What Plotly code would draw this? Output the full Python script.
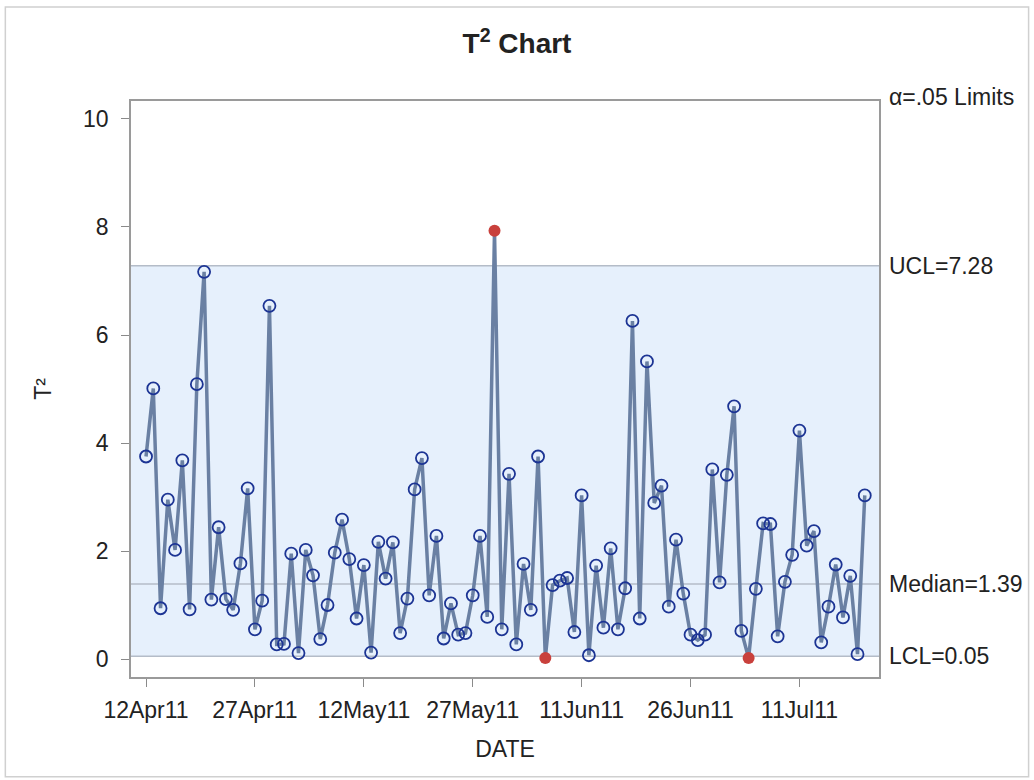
import pandas as pd
import plotly.graph_objects as go

start_date = "2011-04-12"
t2_values = [
    3.75, 5.01, 0.94, 2.95, 2.02, 3.68, 0.92, 5.09, 7.17, 1.10,
    2.44, 1.11, 0.91, 1.77, 3.16, 0.55, 1.08, 6.54, 0.27, 0.28,
    1.95, 0.11, 2.02, 1.55, 0.37, 1.00, 1.97, 2.58, 1.85, 0.75,
    1.74, 0.12, 2.17, 1.49, 2.16, 0.48, 1.12, 3.14, 3.72, 1.18,
    2.28, 0.38, 1.03, 0.45, 0.48, 1.18, 2.28, 0.78, 7.93, 0.55,
    3.43, 0.27, 1.76, 0.91, 3.75, 0.02, 1.37, 1.45, 1.50, 0.50,
    3.03, 0.07, 1.73, 0.58, 2.05, 0.55, 1.31, 6.26, 0.75, 5.51,
    2.89, 3.21, 0.97, 2.21, 1.21, 0.45, 0.35, 0.45, 3.51, 1.42,
    3.41, 4.68, 0.52, 0.02, 1.30, 2.51, 2.50, 0.42, 1.43, 1.93,
    4.23, 2.10, 2.37, 0.31, 0.97, 1.75, 0.77, 1.54, 0.09, 3.03,
]
ucl = 7.28
median = 1.39
lcl = 0.05
tick_labels = ["12Apr11", "27Apr11", "12May11", "27May11", "11Jun11", "26Jun11", "11Jul11"]
tick_dates = ["2011-04-12", "2011-04-27", "2011-05-12", "2011-05-27", "2011-06-11", "2011-06-26", "2011-07-11"]

dates = pd.date_range(start_date, periods=len(t2_values), freq="D")
out_x = [d for d, v in zip(dates, t2_values) if v > ucl or v < lcl]
out_y = [v for v in t2_values if v > ucl or v < lcl]
in_x = [d for d, v in zip(dates, t2_values) if lcl <= v <= ucl]
in_y = [v for v in t2_values if lcl <= v <= ucl]

FONT = "Arial, Liberation Sans, sans-serif"
TXT = "#222222"
x0 = pd.Timestamp(start_date) - pd.Timedelta(days=2.07)
x1 = pd.Timestamp(start_date) + pd.Timedelta(days=100.96)

fig = go.Figure()
fig.add_trace(go.Scatter(x=dates, y=t2_values, mode="lines",
                         line=dict(color="#6a80a3", width=3.5), hoverinfo="skip"))
fig.add_trace(go.Scatter(x=in_x, y=in_y, mode="markers",
                         marker=dict(symbol="circle-open", size=12, color="#1c3494",
                                     line=dict(width=1.8, color="#1c3494"))))
fig.add_trace(go.Scatter(x=out_x, y=out_y, mode="markers",
                         marker=dict(symbol="circle", size=12, color="#c9403c")))

# control band
fig.add_shape(type="rect", xref="paper", yref="y", x0=0, x1=1, y0=lcl, y1=ucl,
              fillcolor="#e6f0fc", line=dict(width=0), layer="below")
for v in (ucl, median, lcl):
    fig.add_shape(type="line", xref="paper", yref="y", x0=0, x1=1, y0=v, y1=v,
                  line=dict(color="#b4bcc8", width=1.5), layer="below")

# outer frame
fig.add_shape(type="rect", xref="paper", yref="paper", x0=-0.168, x1=1.2, y0=-0.173, y1=1.163,
              line=dict(color="#d0d0d0", width=1.5), fillcolor="rgba(0,0,0,0)")

ann_font = dict(family=FONT, size=23, color=TXT)
fig.add_annotation(xref="paper", yref="paper", x=1.0107, y=1.007, text="α=.05 Limits",
                   showarrow=False, xanchor="left", yanchor="middle", font=ann_font)
for v, label in ((ucl, f"UCL={ucl:.2f}"), (median, f"Median={median:.2f}"), (lcl, f"LCL={lcl:.2f}")):
    fig.add_annotation(xref="paper", yref="y", x=1.0107, y=v, text=label,
                       showarrow=False, xanchor="left", yanchor="middle", font=ann_font)

fig.update_layout(
    width=1034, height=780,
    margin=dict(l=131, r=155, t=101, b=103),
    paper_bgcolor="white", plot_bgcolor="white",
    showlegend=False,
    title=dict(text="<b>T<sup>2</sup> Chart</b>", x=0.5, xanchor="center", y=0.944,
               yanchor="middle", font=dict(family=FONT, size=28, color=TXT)),
    font=dict(family=FONT, size=23, color=TXT),
)
fig.update_xaxes(
    type="date", range=[x0, x1], tickvals=tick_dates, ticktext=tick_labels,
    ticks="outside", ticklen=8, tickcolor="#8a8a8a", showgrid=False, zeroline=False,
    showline=True, linecolor="#9a9a9a", linewidth=1.5, mirror=True,
    ticklabelstandoff=4,
    tickfont=dict(family=FONT, size=23, color=TXT),
    title=dict(text="DATE", font=dict(family=FONT, size=23, color=TXT), standoff=19),
)
fig.update_yaxes(
    range=[-0.333, 10.333], tickvals=[0, 2, 4, 6, 8, 10],
    ticks="outside", ticklen=8, tickcolor="#8a8a8a", showgrid=False, zeroline=False,
    showline=True, linecolor="#9a9a9a", linewidth=1.5, mirror=True,
    ticklabelstandoff=8,
    tickfont=dict(family=FONT, size=23, color=TXT),
    title=dict(text="T²", font=dict(family=FONT, size=23, color=TXT), standoff=25),
)

fig.write_html("out.html")
